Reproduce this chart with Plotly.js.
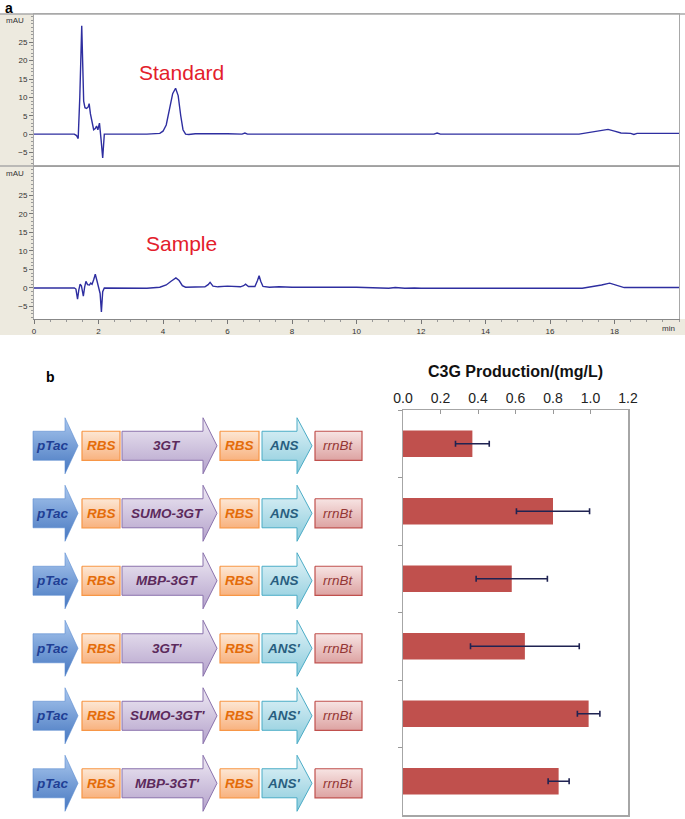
<!DOCTYPE html>
<html>
<head>
<meta charset="utf-8">
<script src="https://cdn.plot.ly/plotly-3.0.1.min.js"></script>
<style>html,body{margin:0;padding:0;background:#fff;}#chart{width:685px;height:819px;}</style>
</head>
<body>
<div id="chart"></div>
<script>
// ---------- Panel a: chromatograms (time in min, absorbance in mAU) ----------
const standardTime = [0,0.5,1.0,1.25,1.32,1.37,1.42,1.48,1.51,1.54,1.58,1.63,1.68,1.71,1.75,1.8,1.85,1.9,1.94,1.98,2.03,2.08,2.13,2.18,2.5,3.0,3.5,3.9,4.0,4.1,4.2,4.3,4.39,4.47,4.55,4.62,4.7,4.8,5.0,5.5,6.0,6.45,6.54,6.62,10.0,12.4,12.5,12.6,16.9,17.2,17.5,17.8,18.0,18.2,18.5,18.6,18.7,19.0,20.0];
const standardSignal = [0,0.1,0,0,-0.4,-1.2,10,29.5,19,9,7.2,7,7.4,8.3,5.5,3,1.2,1.5,2.2,1.2,3.0,-1.5,-6.5,0,0,-0.1,0,0.2,0.8,2.5,6.5,11,12.5,10.5,5,1.2,0,-0.1,0.1,0.2,0.1,0,0.3,0,0,0,0.3,0,0,0.4,0.8,1.3,0.8,0.3,0.2,-0.1,0.2,0.2,0.2];

const sampleTime = [0,0.5,1.0,1.25,1.3,1.35,1.39,1.43,1.47,1.53,1.57,1.61,1.66,1.72,1.76,1.8,1.85,1.9,1.95,2.0,2.05,2.09,2.13,2.18,2.6,3.0,3.5,3.9,4.1,4.25,4.4,4.5,4.6,4.7,5.0,5.3,5.4,5.46,5.55,5.7,6.0,6.15,6.4,6.5,6.56,6.65,6.85,6.93,6.98,7.03,7.1,7.3,7.6,8.0,8.5,8.7,9.0,10.0,10.9,11.0,11.2,11.5,11.8,12.0,17.0,17.3,17.6,17.85,18.1,18.3,19.0,20.0];
const sampleSignal = [0,0,0,0,-0.3,-3.0,-0.5,1.0,0.6,-2.2,0.2,1.8,0.9,0.8,1.3,1.0,2.2,3.7,2.0,0.3,-1.5,-6.5,-1,0,0,-0.2,-0.1,0.2,0.8,1.8,2.7,2.0,0.6,0.2,0.2,0.3,0.9,1.5,0.5,0.3,0.5,0.4,0.3,0.6,1.0,0.4,0.4,2.0,3.3,1.8,0.4,0.2,0.3,0.2,0.3,0.2,0.2,0.2,0.1,-0.1,0.1,-0.1,0,-0.1,-0.1,0.3,0.8,1.3,0.6,0.1,0.1,0.1];

const timeTicks = [0,2,4,6,8,10,12,14,16,18];
const timeUnit = "min";
const mauTicks = [-5,0,5,10,15,20,25];

// ---------- Panel b: constructs and C3G production ----------
const promoter = "pTac";
const rbsLabel = "RBS";
const gene1 = ["3GT","SUMO-3GT","MBP-3GT","3GT'","SUMO-3GT'","MBP-3GT'"];
const gene2 = ["ANS","ANS","ANS","ANS'","ANS'","ANS'"];
const terminator = "rrnBt";
const c3gMean = [0.37,0.80,0.58,0.65,0.99,0.83];
const c3gErr  = [0.09,0.195,0.19,0.29,0.06,0.056];
const prodTicks = [0.0,0.2,0.4,0.6,0.8,1.0,1.2];

// ---------- geometry helpers ----------
const W = 685, H = 819;
const px = v => v / W;
const py = v => 1 - v / H;
const font = "Liberation Sans, Arial, sans-serif";

const lineBlue = '#2E2EA0';
const traces = [
  {type:'scatter', mode:'lines', x:standardTime, y:standardSignal, xaxis:'x', yaxis:'y',
   line:{color:lineBlue, width:1.4}, hoverinfo:'skip'},
  {type:'scatter', mode:'lines', x:sampleTime, y:sampleSignal, xaxis:'x2', yaxis:'y2',
   line:{color:lineBlue, width:1.4}, hoverinfo:'skip'},
  {type:'bar', orientation:'h', x:c3gMean, y:gene1, xaxis:'x3', yaxis:'y3', width:0.39,
   marker:{color:'#C0504D', line:{width:0}},
   error_x:{type:'data', array:c3gErr, visible:true, color:'#1F2352', thickness:1.6, width:3},
   hoverinfo:'skip'}
];

// construct diagram parts (pixel x geometry on a hidden axis)
const DW = 380;
const BH = 0.215, HH = 0.415, OFF = 0.03;
const partStyles = {
  prom: {top:'#A9C7EE', bot:'#4677C0', line:'#5B8BD0', lw:0.6, tc:'#1F3F95', bold:true},
  rbs:  {top:'#FDE7D4', bot:'#F8B27F', line:'#F79646', lw:1.2, tc:'#E46C0A', bold:true},
  g1:   {top:'#EFEAF4', bot:'#B4A2CB', line:'#8A72AC', lw:1.0, tc:'#5C2A5C', bold:true},
  g2:   {top:'#E6F5F9', bot:'#8ACBDC', line:'#4BACC6', lw:1.0, tc:'#285E80', bold:true},
  term: {top:'#F7E4E3', bot:'#DDA3A2', line:'#C0504D', lw:1.2, tc:'#943634', bold:false}
};
const partGeom = [
  {style:'prom', kind:'arrow', x0:33, x1:78, xh:65, tx:52},
  {style:'rbs', kind:'box', x0:82, x1:120, tx:101},
  {style:'g1', kind:'arrow', x0:122, x1:217, xh:203, tx:167},
  {style:'rbs', kind:'box', x0:220, x1:259, tx:239.5},
  {style:'g2', kind:'arrow', x0:262, x1:312, xh:297, tx:284},
  {style:'term', kind:'box', x0:315, x1:362, tx:338.5}
];
const annotations = [];
gene1.forEach((g, i) => {
  const labels = [promoter, rbsLabel, g, rbsLabel, gene2[i], terminator];
  const yc = i + OFF;
  partGeom.forEach((p, k) => {
    const s = partStyles[p.style];
    let xs, ys;
    if (p.kind === 'arrow') {
      xs = [p.x0, p.xh, p.xh, p.x1, p.xh, p.xh, p.x0, p.x0];
      ys = [yc-BH, yc-BH, yc-HH, yc, yc+HH, yc+BH, yc+BH, yc-BH];
    } else {
      xs = [p.x0, p.x1, p.x1, p.x0, p.x0];
      ys = [yc-BH, yc-BH, yc+BH, yc+BH, yc-BH];
    }
    const y0 = p.kind === 'arrow' ? yc-HH : yc-BH;
    const y1 = p.kind === 'arrow' ? yc+HH : yc+BH;
    traces.push({type:'scatter', mode:'lines', x:xs, y:ys, xaxis:'x4', yaxis:'y4',
      fill:'toself', fillcolor:s.bot,
      fillgradient:{type:'vertical', start:y0, stop:y1, colorscale:[[0,s.top],[1,s.bot]]},
      line:{color:s.line, width:s.lw}, hoverinfo:'skip'});
    annotations.push({xref:'x4', yref:'y4', x:p.tx, y:yc, text:labels[k], showarrow:false,
      xanchor:'center', yanchor:'middle',
      font:{family:font, size:13.5, color:s.tc, style:'italic', weight: s.bold ? 'bold' : 'normal'}});
  });
});

annotations.push(
  {xref:'paper', yref:'paper', x:px(3), y:py(8), text:'<b>a</b>', showarrow:false, xanchor:'left', yanchor:'middle', font:{family:font, size:14, color:'#000'}},
  {xref:'paper', yref:'paper', x:px(44), y:py(377), text:'<b>b</b>', showarrow:false, xanchor:'left', yanchor:'middle', font:{family:font, size:14, color:'#000'}},
  {xref:'paper', yref:'paper', x:px(181), y:py(72), text:'Standard', showarrow:false, xanchor:'center', yanchor:'middle', font:{family:font, size:21, color:'#E3202B'}},
  {xref:'paper', yref:'paper', x:px(181), y:py(243), text:'Sample', showarrow:false, xanchor:'center', yanchor:'middle', font:{family:font, size:21, color:'#E3202B'}},
  {xref:'paper', yref:'paper', x:px(26), y:py(20), text:'mAU', showarrow:false, xanchor:'right', yanchor:'middle', font:{family:font, size:8, color:'#333'}},
  {xref:'paper', yref:'paper', x:px(26), y:py(173), text:'mAU', showarrow:false, xanchor:'right', yanchor:'middle', font:{family:font, size:8, color:'#333'}},
  {xref:'paper', yref:'paper', x:px(677), y:py(328), text:timeUnit, showarrow:false, xanchor:'right', yanchor:'middle', font:{family:font, size:8, color:'#333'}},
  {xref:'paper', yref:'paper', x:px(515), y:py(372), text:'<b>C3G Production/(mg/L)</b>', showarrow:false, xanchor:'center', yanchor:'middle', font:{family:font, size:16, color:'#111'}}
);

const beige = '#EDEADF';
const frameGray = '#A8A8A8';
const shapes = [
  {type:'rect', xref:'paper', yref:'paper', x0:0, x1:px(34), y0:py(335), y1:py(14), fillcolor:beige, line:{width:0}, layer:'below'},
  {type:'rect', xref:'paper', yref:'paper', x0:0, x1:1, y0:py(335), y1:py(319), fillcolor:beige, line:{width:0}, layer:'below'},
  {type:'line', xref:'paper', yref:'paper', x0:0, x1:1, y0:py(14), y1:py(14), line:{color:frameGray, width:1.5}},
  {type:'line', xref:'paper', yref:'paper', x0:0, x1:px(680), y0:py(166), y1:py(166), line:{color:frameGray, width:1.5}}
];

const chromY = {
  range:[-8.4,32.7], tickvals:mauTicks, ticks:'outside', ticklen:4, tickcolor:'#777', tickwidth:1,
  minor:{dtick:1, ticks:'outside', ticklen:2, tickcolor:'#999'},
  tickfont:{family:font, size:8, color:'#333'}, showgrid:false, zeroline:false,
  showline:true, linecolor:frameGray, linewidth:1, mirror:true, fixedrange:true
};
const chromDomainX = [px(34), px(679)];

const layout = {
  width:W, height:H, margin:{l:0,r:0,t:0,b:0}, showlegend:false,
  paper_bgcolor:'#fff', plot_bgcolor:'rgba(0,0,0,0)', font:{family:font},
  xaxis:{domain:chromDomainX, range:[0,20], anchor:'y', showticklabels:false, ticks:'',
         showgrid:false, zeroline:false, showline:true, linecolor:frameGray, mirror:true},
  yaxis:Object.assign({domain:[py(165), py(14)], anchor:'x'}, chromY),
  xaxis2:{domain:chromDomainX, range:[0,20], anchor:'y2', tickvals:timeTicks,
          ticks:'outside', ticklen:4, tickcolor:'#777', minor:{dtick:0.5, ticks:'outside', ticklen:2, tickcolor:'#999'},
          tickfont:{family:font, size:8, color:'#333'}, showgrid:false, zeroline:false,
          showline:true, linecolor:'#888', mirror:true},
  yaxis2:Object.assign({domain:[py(319), py(167)], anchor:'x2'}, chromY),
  xaxis3:{domain:[px(403), px(628)], range:[0,1.2], anchor:'y3', side:'top', tickvals:prodTicks, tickformat:'.1f',
          ticks:'inside', ticklen:4, tickcolor:'#999', tickfont:{family:font, size:14, color:'#222'},
          showgrid:false, zeroline:false, showline:true, linecolor:'#A6A6A6', linewidth:1.5, mirror:true},
  yaxis3:{domain:[py(815), py(410)], anchor:'x3', type:'category', range:[5.5,-0.5], showticklabels:false,
          ticks:'outside', tickson:'boundaries', ticklen:4, tickcolor:'#999', showgrid:false,
          showline:true, linecolor:'#A6A6A6', linewidth:1.5, mirror:true},
  xaxis4:{domain:[0, px(DW)], range:[0,DW], anchor:'y4', visible:false},
  yaxis4:{domain:[py(815), py(410)], range:[5.5,-0.5], anchor:'x4', visible:false},
  shapes:shapes, annotations:annotations
};

Plotly.newPlot('chart', traces, layout, {staticPlot:true, displayModeBar:false});
</script>
</body>
</html>
